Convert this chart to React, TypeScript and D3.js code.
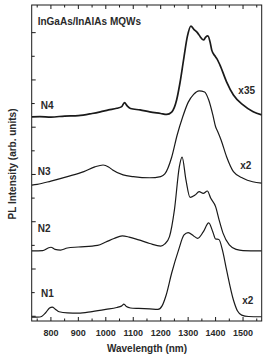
import React from "react";
import * as d3 from "d3";

const n1Wave = [730, 760, 780, 795, 805, 815, 830, 860, 900, 950, 1000, 1040, 1058, 1066, 1075, 1090, 1120, 1160, 1190, 1205, 1220, 1240, 1265, 1285, 1300, 1320, 1335, 1355, 1375, 1390, 1400, 1412, 1425, 1440, 1465, 1480, 1495, 1520, 1568];
const n1Int = [-0.04, -0.03, 0.14, 0.35, 0.39, 0.31, 0.19, 0.14, 0.13, 0.2, 0.29, 0.37, 0.44, 0.51, 0.41, 0.35, 0.33, 0.31, 0.29, 0.44, 0.9, 1.83, 2.8, 3.44, 3.54, 3.4, 3.3, 3.57, 3.95, 3.57, 3.27, 3.25, 2.8, 1.96, 0.69, 0.22, 0.05, -0.01, -0.02];

const n2Wave = [730, 770, 790, 800, 815, 835, 860, 900, 970, 1000, 1030, 1060, 1085, 1120, 1160, 1200, 1215, 1232, 1250, 1268, 1278, 1292, 1307, 1325, 1340, 1355, 1370, 1382, 1400, 1413, 1427, 1450, 1475, 1500, 1568];
const n2Int = [2.77, 2.78, 2.89, 2.92, 2.83, 2.8, 2.89, 2.93, 3.0, 3.14, 3.29, 3.4, 3.35, 3.23, 3.08, 2.97, 3.06, 3.37, 4.5, 6.33, 6.73, 5.77, 5.03, 5.13, 5.27, 5.2, 5.3, 5.0, 4.64, 4.07, 3.52, 3.02, 2.83, 2.78, 2.77];

const n3Wave = [730, 750, 800, 860, 920, 960, 990, 1010, 1025, 1063, 1100, 1160, 1200, 1215, 1240, 1260, 1280, 1300, 1320, 1340, 1360, 1375, 1390, 1400, 1408, 1420, 1440, 1465, 1500, 1535, 1568];
const n3Int = [5.55, 5.58, 5.72, 5.91, 6.12, 6.32, 6.4, 6.32, 6.19, 5.98, 5.91, 5.86, 5.91, 6.02, 6.73, 7.67, 8.43, 9.05, 9.39, 9.54, 9.49, 9.15, 8.52, 8.02, 7.81, 7.46, 6.75, 6.12, 5.84, 5.69, 5.63];

const n4Wave = [730, 760, 800, 850, 900, 950, 980, 1010, 1040, 1058, 1068, 1078, 1090, 1125, 1160, 1200, 1222, 1240, 1258, 1270, 1285, 1297, 1310, 1320, 1335, 1344, 1356, 1364, 1372, 1380, 1386, 1398, 1404, 1416, 1440, 1465, 1500, 1537, 1568];
const n4Int = [8.44, 8.45, 8.43, 8.47, 8.49, 8.58, 8.65, 8.73, 8.8, 8.87, 9.04, 8.9, 8.79, 8.73, 8.65, 8.58, 8.54, 8.64, 9.15, 9.86, 10.98, 11.83, 12.28, 12.15, 11.98, 11.83, 11.69, 11.81, 11.86, 11.6, 11.26, 11.01, 10.91, 10.63, 9.92, 9.36, 8.94, 8.65, 8.52];

const xTicks = [800, 900, 1000, 1100, 1200, 1300, 1400, 1500];
const xMinorTicks = [750, 850, 950, 1050, 1150, 1250, 1350, 1450, 1550];
const yTicks = [0, 1, 2, 3, 4, 5, 6, 7, 8, 9, 10, 11, 12];

const seriesLabels = ["N1", "N2", "N3", "N4"];
const factorLabels = ["x2", "", "x2", "x35"];

const W = 268, H = 358;
const left = 31.7, right = 261.7, top = 5, bottom = 321;
const FONT = "'Liberation Sans', Arial, sans-serif";
const INK = "#1a1a1a";

export default function App() {
  const x = d3.scaleLinear().domain([730, 1568]).range([left, right]);
  const y = d3.scaleLinear().domain([-0.2, 13.17]).range([bottom, top]);
  const line = d3
    .line<[number, number]>()
    .x((d) => x(d[0]))
    .y((d) => y(d[1]))
    .curve(d3.curveMonotoneX);

  const series = [
    { w: n1Wave, v: n1Int, sw: 1.2 },
    { w: n2Wave, v: n2Int, sw: 1.2 },
    { w: n3Wave, v: n3Int, sw: 1.2 },
    { w: n4Wave, v: n4Int, sw: 1.7 },
  ];

  const labelPos = [
    { lx: 41, ly: 293, fx: 247.7, fy: 300.7 },
    { lx: 37.7, ly: 228, fx: 0, fy: 0 },
    { lx: 37.7, ly: 171, fx: 245.7, fy: 165 },
    { lx: 40.7, ly: 105, fx: 246.7, fy: 90 },
  ];

  return (
    <svg
      width={W}
      height={H}
      style={{ position: "absolute", left: 0, top: 0, background: "#fff" }}
    >
      <rect x={0} y={0} width={W} height={H} fill="#fff" />
      <defs>
        <clipPath id="plotclip">
          <rect x={left} y={top} width={right - left} height={bottom - top} />
        </clipPath>
      </defs>
      <g clipPath="url(#plotclip)">
        {series.map((s, i) => (
          <path
            key={i}
            d={line(s.w.map((w, j) => [w, s.v[j]] as [number, number])) || ""}
            fill="none"
            stroke={INK}
            strokeWidth={s.sw}
            strokeLinejoin="round"
          />
        ))}
      </g>
      <rect
        x={left}
        y={top}
        width={right - left}
        height={bottom - top}
        fill="none"
        stroke={INK}
        strokeWidth={1}
      />
      {xTicks.map((t) => (
        <g key={"xt" + t}>
          <line x1={x(t)} x2={x(t)} y1={bottom} y2={bottom - 4} stroke={INK} />
          <line x1={x(t)} x2={x(t)} y1={top} y2={top + 4} stroke={INK} />
          <text
            x={x(t)}
            y={bottom + 15}
            textAnchor="middle"
            fontFamily={FONT}
            fontWeight="bold"
            fontSize={9}
            fill="#2a2a2a"
          >
            {t}
          </text>
        </g>
      ))}
      {xMinorTicks.map((t) => (
        <g key={"xm" + t}>
          <line x1={x(t)} x2={x(t)} y1={bottom} y2={bottom - 2.5} stroke={INK} />
          <line x1={x(t)} x2={x(t)} y1={top} y2={top + 2.5} stroke={INK} />
        </g>
      ))}
      {yTicks.map((t) => (
        <line
          key={"yt" + t}
          x1={left}
          x2={left + (t % 2 === 0 ? 4 : 3)}
          y1={y(t)}
          y2={y(t)}
          stroke={INK}
        />
      ))}
      <text
        x={37.7}
        y={24.5}
        fontFamily={FONT}
        fontWeight="bold"
        fontSize={10}
        fill="#2a2a2a"
      >
        InGaAs/InAlAs MQWs
      </text>
      {seriesLabels.map((lab, i) => (
        <text
          key={lab}
          x={labelPos[i].lx}
          y={labelPos[i].ly + 3.5}
          fontFamily={FONT}
          fontWeight="bold"
          fontSize={10}
          fill="#2a2a2a"
        >
          {lab}
        </text>
      ))}
      {factorLabels.map((f, i) =>
        f ? (
          <text
            key={"f" + i}
            x={labelPos[i].fx}
            y={labelPos[i].fy + 3.5}
            textAnchor="middle"
            fontFamily={FONT}
            fontWeight="bold"
            fontSize={10}
            fill="#2a2a2a"
          >
            {f}
          </text>
        ) : null
      )}
      <text
        x={147}
        y={352}
        textAnchor="middle"
        fontFamily={FONT}
        fontWeight="bold"
        fontSize={10}
        fill="#2a2a2a"
      >
        Wavelength (nm)
      </text>
      <text
        transform={`translate(15.5, 164) rotate(-90)`}
        textAnchor="middle"
        fontFamily={FONT}
        fontWeight="bold"
        fontSize={10}
        fill="#2a2a2a"
      >
        PL Intensity (arb. units)
      </text>
    </svg>
  );
}
